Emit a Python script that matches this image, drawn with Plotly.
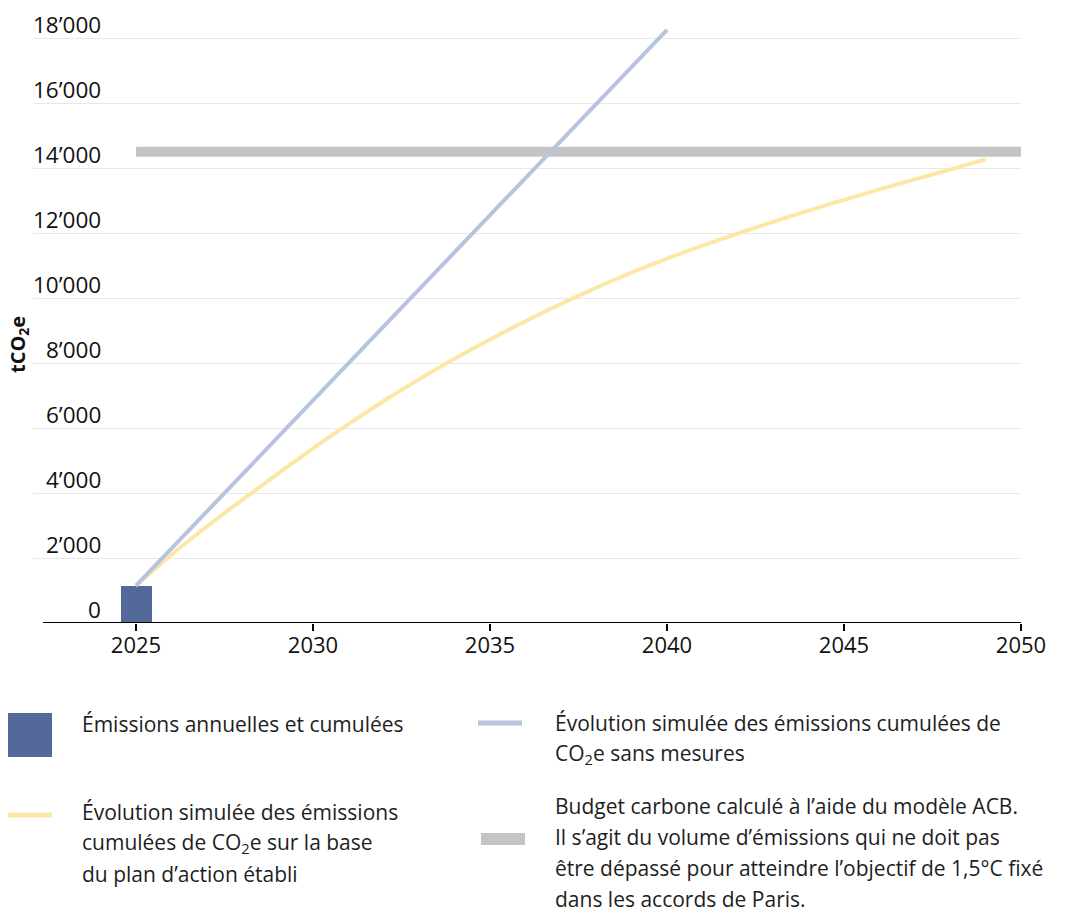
import plotly.graph_objects as go

# ---- data ----
bar_year = [2025]
bar_value = [1150]

no_measures_years = list(range(2025, 2041))
no_measures = [1150, 2290, 3430, 4570, 5710, 6850, 7990, 9130, 10270, 11410,
               12550, 13690, 14830, 15970, 17110, 18250]

plan_years = list(range(2025, 2050))
plan = [1150, 2100, 2970, 3790, 4590, 5370, 6120, 6830, 7500, 8130,
        8725, 9285, 9815, 10315, 10785, 11215, 11610, 11985, 12345, 12690,
        13020, 13340, 13650, 13950, 14270]

budget_years = [2025, 2050]
budget = [14500, 14500]

y_ticks = [0, 2000, 4000, 6000, 8000, 10000, 12000, 14000, 16000, 18000]
x_ticks = [2025, 2030, 2035, 2040, 2045, 2050]

legend_bar = ["Émissions annuelles et cumulées"]
legend_blue = ["Évolution simulée des émissions cumulées de",
               "CO<sub>2</sub>e sans mesures"]
legend_yellow = ["Évolution simulée des émissions",
                 "cumulées de CO<sub>2</sub>e sur la base",
                 "du plan d’action établi"]
legend_gray = ["Budget carbone calculé à l’aide du modèle ACB.",
               "Il s’agit du volume d’émissions qui ne doit pas",
               "être dépassé pour atteindre l’objectif de 1,5°C fixé",
               "dans les accords de Paris."]
y_title = "<b>tCO<sub>2</sub>e</b>"

# ---- colours ----
C_BAR = "#52699a"
C_BLUE = "#b7c4de"
C_YELLOW = "#fbe7a6"
C_GRAY = "#c4c4c4"
FONT = "Open Sans"

W, H = 1072, 912
OFF = 8  # page body margin offset
ML, MR, MT, MB = 25, 59, 17, 297
PW = W - ML - MR
PH = H - MT - MB


def px(x):
    return (x - OFF - ML) / PW


def py(y):
    return (H - MB - (y - OFF)) / PH


fig = go.Figure()
fig.add_trace(go.Bar(x=bar_year, y=bar_value, width=0.876, marker_color=C_BAR,
                     marker_line_width=0, showlegend=False))
fig.add_trace(go.Scatter(x=budget_years, y=budget, mode="lines",
                         line=dict(color=C_GRAY, width=10), showlegend=False))
fig.add_trace(go.Scatter(x=plan_years, y=plan, mode="lines",
                         line=dict(color=C_YELLOW, width=4, shape="spline",
                                   smoothing=0.6),
                         showlegend=False))
fig.add_trace(go.Scatter(x=no_measures_years, y=no_measures, mode="lines",
                         line=dict(color=C_BLUE, width=4), showlegend=False))

annotations = []
for v in y_ticks:
    annotations.append(dict(
        x=px(103), xref="paper", y=v, yref="y", xanchor="right", yanchor="bottom",
        text=f"{v:,}".replace(",", "’"), showarrow=False,
        font=dict(family=FONT, size=22.5, color="#111111"), yshift=-4))

annotations.append(dict(x=px(18), y=py(345), xref="paper", yref="paper",
                        xanchor="center", yanchor="middle",
                        text=y_title, textangle=-90, showarrow=False,
                        font=dict(family=FONT, size=20, color="#111111")))

leg_font = dict(family=FONT, size=21, color="#1e1e1e")


def add_block(lines, x0, y0, step=31):
    for i, t in enumerate(lines):
        annotations.append(dict(x=px(x0), y=py(y0 + i * step), xref="paper",
                                yref="paper", xanchor="left", yanchor="middle",
                                align="left", text=t, showarrow=False,
                                font=leg_font))


add_block(legend_bar, 80, 724)
add_block(legend_blue, 553, 723)
add_block(legend_yellow, 80, 812)
add_block(legend_gray, 553, 806)

shapes = [
    dict(type="line", xref="paper", yref="y", x0=px(43), x1=1, y0=0, y1=0,
         line=dict(color="#000000", width=2)),
    dict(type="rect", xref="paper", yref="paper", x0=px(8), x1=px(52),
         y0=py(713), y1=py(757), fillcolor=C_BAR, line_width=0),
    dict(type="line", xref="paper", yref="paper", x0=px(478), x1=px(522),
         y0=py(723), y1=py(723), line=dict(color=C_BLUE, width=5)),
    dict(type="line", xref="paper", yref="paper", x0=px(8), x1=px(52),
         y0=py(815), y1=py(815), line=dict(color=C_YELLOW, width=5)),
    dict(type="rect", xref="paper", yref="paper", x0=px(481), x1=px(525),
         y0=py(833), y1=py(845), fillcolor=C_GRAY, line_width=0),
]

fig.update_layout(
    width=W, height=H,
    margin=dict(l=ML, r=MR, t=MT, b=MB),
    plot_bgcolor="white", paper_bgcolor="white",
    font=dict(family=FONT, size=21, color="#111111"),
    annotations=annotations, shapes=shapes,
    showlegend=False,
    bargap=0,
)
fig.update_xaxes(range=[2022.09, 2050], tickvals=x_ticks, showgrid=False,
                 zeroline=False, showline=False, ticks="outside", ticklen=7,
                 tickwidth=2, tickcolor="#000000", ticklabelstandoff=-4,
                 tickfont=dict(family=FONT, size=22, color="#111111"))
fig.update_yaxes(range=[0, 18400], tickvals=y_ticks, showticklabels=False,
                 showgrid=True, gridcolor="#e8e8e8", gridwidth=1, zeroline=False,
                 showline=False)

fig.write_html("out.html")
